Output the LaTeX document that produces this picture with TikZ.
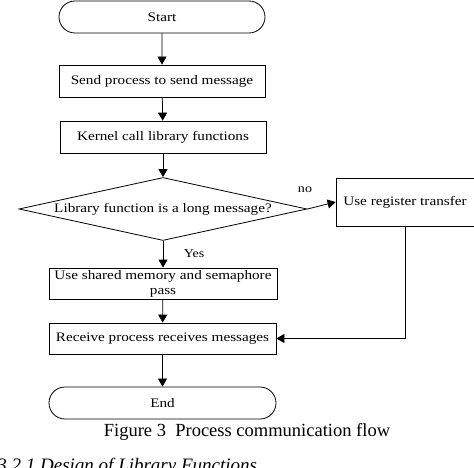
\documentclass[tikz,border=0pt]{standalone}
\usepackage{fontspec}
\setmainfont{Liberation Serif}
\newfontfamily\boxfont[FakeStretch=1.17]{Liberation Serif}
\usetikzlibrary{shapes.geometric,shapes.misc,arrows.meta}
\begin{document}
\begin{tikzpicture}[x=1pt,y=-1pt,line width=0.8pt,
  every node/.style={font=\boxfont\fontsize{13}{15}\selectfont, inner sep=0pt},
  term/.style={rounded rectangle, draw, minimum width=206pt, minimum height=32pt},
  proc/.style={rectangle, draw, minimum width=206pt, minimum height=32pt, align=center},
  decide/.style={diamond, draw, aspect=4.571, minimum width=288pt, minimum height=63pt},
  lbl/.style={font=\boxfont\fontsize{12}{14}\selectfont},
  arr/.style={-{Triangle[width=9pt,length=8pt]}}]
\useasboundingbox (0,0) rectangle (474,468);

\node[term] (start) at (162,17) {Start};
\node[proc] (send) at (162,81) {Send process to send message};
\node[proc] (kern) at (163,137) {Kernel call library functions};
\node[decide] (dec) at (163,209) {Library function is a long message?};
\node[proc, minimum width=138pt, minimum height=48pt] (reg) at (405,202) {Use register transfer};
\node[proc, minimum width=228pt, minimum height=31pt] (shared) at (163,283.5) {Use shared memory and semaphore\\pass};
\node[proc, minimum width=227pt, minimum height=31pt] (recv) at (162.5,338.5) {Receive process receives messages};
\node[term, minimum width=227pt] (end) at (162.5,403) {End};

\node[lbl] (no) at (305,190) {no};
\node[lbl] (yes) at (194,254) {Yes};

\draw[arr] (start) -- (send);
\draw[arr] (send) -- (kern);
\draw[arr] (kern) -- (dec);
\draw[arr] (dec.east) -- (reg.west);
\draw[arr] (dec.south) -- (shared.north);
\draw[arr] (shared) -- (recv);
\draw[arr] (recv) -- (end);
\draw[arr] (reg.south) |- (recv.east);

\node[font=\fontsize{18.5}{22}\selectfont] (cap) at (247,432) {Figure 3~ Process communication flow};
\node[anchor=base west, font=\itshape\fontsize{19}{22}\selectfont] (sec) at (-3,471) {3.2.1 Design of Library Functions};
\end{tikzpicture}
\end{document}
